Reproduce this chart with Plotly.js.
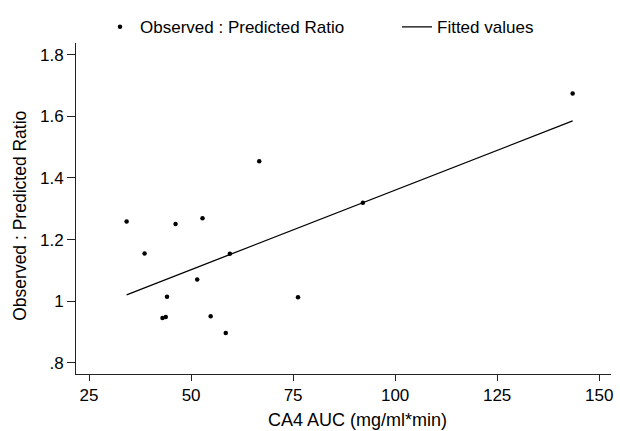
<!DOCTYPE html>
<html>
<head>
<meta charset="utf-8">
<script src="https://cdn.plot.ly/plotly-3.0.1.min.js"></script>
<style>html,body{margin:0;padding:0;background:#fff;}#chart{width:620px;height:431px;}</style>
</head>
<body>
<div id="chart"></div>
<script>
var aucValues = [34.2, 38.6, 43.0, 43.8, 44.1, 46.2, 51.5, 52.8, 54.8, 58.5, 59.5, 66.7, 76.2, 92.1, 143.5];
var ratioValues = [1.259, 1.155, 0.946, 0.949, 1.015, 1.251, 1.071, 1.269, 0.951, 0.897, 1.154, 1.454, 1.013, 1.320, 1.674];
// Fitted line
var fitX = [34.2, 143.5];
var fitY = [1.021, 1.585];
// Ticks
var xTicks = [25, 50, 75, 100, 125, 150];
var xTickText = ['25', '50', '75', '100', '125', '150'];
var yTicks = [0.8, 1, 1.2, 1.4, 1.6, 1.8];
var yTickText = ['.8', '1', '1.2', '1.4', '1.6', '1.8'];

var FONT = 'Liberation Sans, Arial, sans-serif';

var traces = [
  {
    x: aucValues, y: ratioValues, type: 'scatter', mode: 'markers',
    name: 'Observed : Predicted Ratio', legend: 'legend',
    marker: {color: '#000', size: 4.5}
  },
  {
    x: fitX, y: fitY, type: 'scatter', mode: 'lines',
    name: 'Fitted values', legend: 'legend2',
    line: {color: '#000', width: 1.3}
  }
];

var legendFont = {family: FONT, size: 17, color: '#000'};

var layout = {
  width: 620, height: 431,
  margin: {l: 76, r: 9, t: 37, b: 57},
  paper_bgcolor: '#fff', plot_bgcolor: '#fff',
  font: {family: FONT, size: 17, color: '#000'},
  showlegend: true,
  legend: {
    orientation: 'h', x: 0.0449, xanchor: 'left', y: 1.0475, yanchor: 'middle',
    font: legendFont, bgcolor: 'rgba(0,0,0,0)'
  },
  legend2: {
    orientation: 'h', x: 0.6, xanchor: 'left', y: 1.0475, yanchor: 'middle',
    font: legendFont, bgcolor: 'rgba(0,0,0,0)'
  },
  xaxis: {
    range: [21.8, 152.9], tickvals: xTicks, ticktext: xTickText,
    showgrid: false, zeroline: false, showline: true, linecolor: '#222', linewidth: 1,
    ticks: 'outside', ticklen: 6, tickcolor: '#222', tickwidth: 1,
    tickfont: {family: FONT, size: 17, color: '#000'}
  },
  yaxis: {
    range: [0.764, 1.838], tickvals: yTicks, ticktext: yTickText,
    showgrid: false, zeroline: false, showline: true, linecolor: '#222', linewidth: 1,
    ticks: 'outside', ticklen: 8, tickcolor: '#222', tickwidth: 1,
    tickfont: {family: FONT, size: 17, color: '#000'}
  },
  annotations: [
    {text: 'CA4 AUC (mg/ml*min)', xref: 'paper', yref: 'paper', x: 0.526, y: -0.139,
     xanchor: 'center', yanchor: 'middle', showarrow: false,
     font: {family: FONT, size: 18, color: '#000'}},
    {text: 'Observed : Predicted Ratio', xref: 'paper', yref: 'paper', x: -0.1047, y: 0.478,
     xanchor: 'center', yanchor: 'middle', showarrow: false, textangle: -90,
     font: {family: FONT, size: 17.5, color: '#000'}}
  ]
};

Plotly.newPlot('chart', traces, layout, {displayModeBar: false, staticPlot: true});
</script>
</body>
</html>
